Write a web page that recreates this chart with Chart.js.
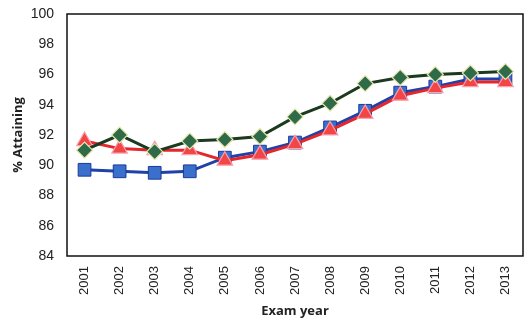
<!DOCTYPE html>
<html>
<head>
<meta charset="utf-8">
<script src="https://cdn.jsdelivr.net/npm/chart.js@4"></script>
<style>
  html, body { margin: 0; padding: 0; background: #fff; }
  #wrap { width: 526px; height: 325px; }
</style>
</head>
<body>
<div id="wrap"><canvas id="chart" width="526" height="325"></canvas></div>
<script>
// values
const years = ["2001", "2002", "2003", "2004", "2005", "2006", "2007", "2008", "2009", "2010", "2011", "2012", "2013"];
const greenSeries = [91.0, 92.0, 90.9, 91.6, 91.7, 91.9, 93.2, 94.1, 95.4, 95.8, 96.0, 96.1, 96.2];
const redSeries = [91.6, 91.1, 91.0, 91.0, 90.3, 90.7, 91.4, 92.3, 93.4, 94.6, 95.1, 95.5, 95.5];
const blueSeries = [89.7, 89.6, 89.5, 89.6, 90.5, 90.9, 91.5, 92.5, 93.6, 94.8, 95.2, 95.7, 95.7];
const yTicks = [84, 86, 88, 90, 92, 94, 96, 98, 100];

// box round the plot area
const frame = {
  id: "frame",
  afterDatasetsDraw(chart) {
    const a = chart.chartArea;
    const ctx = chart.ctx;
    ctx.save();
    ctx.strokeStyle = "#111";
    ctx.lineWidth = 1.5;
    ctx.strokeRect(a.left, a.top, a.right - a.left, a.bottom - a.top);
    ctx.restore();
  }
};

const ctx = document.getElementById("chart").getContext("2d");
new Chart(ctx, {
  type: "line",
  data: {
    labels: years,
    datasets: [
      {
        label: "Green",
        data: greenSeries,
        borderColor: "#1b3a1e",
        borderWidth: 3,
        pointStyle: "rectRot",
        pointRadius: 8,
        pointBackgroundColor: "#2f6b48",
        pointBorderColor: "#e8e8b0",
        pointBorderWidth: 1.2,
        tension: 0,
      },
      {
        label: "Red",
        data: redSeries,
        borderColor: "#e5262b",
        borderWidth: 3,
        pointStyle: "triangle",
        pointRadius: 9,
        pointBackgroundColor: "#f24545",
        pointBorderColor: "#f7a0b0",
        pointBorderWidth: 1.2,
        tension: 0,
      },
      {
        label: "Blue",
        data: blueSeries,
        borderColor: "#1f41a8",
        borderWidth: 3,
        pointStyle: "rect",
        pointRadius: 9,
        pointBackgroundColor: "#3a70cc",
        pointBorderColor: "#1a3a9a",
        pointBorderWidth: 1,
        tension: 0,
      }
    ],
  },
  options: {
    responsive: false,
    animation: false,
    layout: { autoPadding: false, padding: { top: 14, right: 3, left: 0, bottom: 0 } },
    plugins: {
      legend: { display: false },
      tooltip: { enabled: false },
    },
    scales: {
      x: {
        offset: true,
        grid: { display: false, drawTicks: false },
        border: { display: false },
        ticks: {
          color: "#222",
          font: { family: "Liberation Sans", size: 13 },
          minRotation: 90,
          maxRotation: 90,
          padding: 10,
        },
        title: {
          display: true,
          text: "Exam year",
          color: "#222",
          font: { family: "Open Sans", size: 13, weight: "bold" },
          padding: { top: 4, bottom: 6 },
        },
        afterFit: (scale) => {
          scale.height = 69;
          scale.paddingLeft = 0;
          scale.paddingRight = 0;
        },
      },
      y: {
        min: 84,
        max: 100,
        afterBuildTicks: (scale) => { scale.ticks = yTicks.map(v => ({ value: v })); },
        grid: { display: false, drawTicks: false },
        border: { display: false },
        ticks: {
          color: "#222",
          font: { family: "Liberation Sans", size: 14 },
          padding: 13,
        },
        title: {
          display: true,
          text: "% Attaining",
          color: "#222",
          font: { family: "Open Sans", size: 13, weight: "bold" },
          padding: { top: 10, bottom: 4 },
        },
        afterFit: (scale) => {
          scale.width = 67;
          scale.paddingTop = 0;
          scale.paddingBottom = 0;
        },
      },
    },
  },
  plugins: [frame],
});
</script>
</body>
</html>
